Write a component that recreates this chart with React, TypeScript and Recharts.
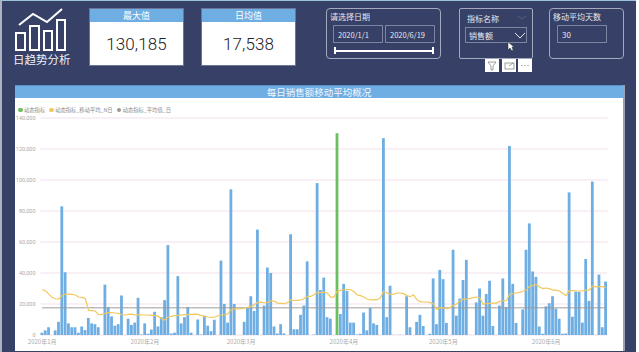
import React from 'react';
import { ComposedChart, Bar, Line, Cell, XAxis, YAxis, CartesianGrid, Legend } from 'recharts';

const NAVY = '#374066';
const BLUE = '#6FAEE2';
const GREEN = '#6ABF5E';
const YELLOW = '#F2C75C';
const GRAY = '#999999';
const CJK = '"Noto Sans CJK SC", "Noto Sans", sans-serif';

const monthLengths = [31, 29, 31, 30, 31, 19];

const salesValues = [
  1500, 3000, 5000, 0, 3000, 8500, 83000, 40500, 7500, 5000,
  5000, 1500, 5500, 3200, 11000, 7500, 7000, 5000, 0, 32500,
  18000, 12000, 6000, 7000, 25500, 0, 10500, 6500, 8000, 24000,
  300, 7500, 800, 3500, 15000, 5500, 11500, 22500, 58000, 1000,
  1500, 38000, 7500, 11500, 18000, 1500, 0, 10000, 300, 12500,
  6000, 2500, 9800, 0, 48000, 20000, 8000, 94000, 20000, 0,
  0, 8500, 17500, 25000, 15500, 68000, 0, 19000, 43500, 40000,
  5500, 1000, 7000, 1000, 0, 65000, 3700, 3700, 13000, 19000,
  47500, 0, 300, 98000, 29000, 37000, 11500, 10500, 0, 130185,
  13500, 33000, 28500, 8000, 8000, 300, 800, 14500, 3000, 17500,
  7500, 6500, 0, 127000, 11500, 31800, 100, 0, 200, 0,
  25000, 5000, 0, 8500, 13000, 5800, 0, 800, 36500, 7000,
  42000, 36000, 7800, 0, 55000, 12500, 23500, 35500, 48500, 100,
  0, 21000, 30000, 12500, 26500, 35000, 5800, 0, 19000, 36500,
  18000, 122000, 33000, 7800, 0, 16500, 55000, 72000, 41000, 37500,
  5500, 800, 18500, 20500, 25000, 17000, 10500, 800, 1000, 92000,
  11800, 28000, 27800, 8000, 49000, 22000, 99000, 100, 39000, 5000,
  34500,
];

const movingAvgValues = [
  29200, 28600, 26400, 24300, 23400, 23200, 25400, 26400, 26400, 26200,
  25800, 24500, 24300, 23600, 15900, 15700, 15500, 13300, 13100, 14000,
  14400, 14400, 14200, 14000, 12900, 12900, 13300, 13500, 12900, 13100,
  12900, 12900, 12900, 12700, 12700, 12000, 10500, 9700, 11600, 12000,
  12500, 12700, 12900, 13100, 13100, 13300, 13500, 13300, 12500, 12000,
  11600, 11400, 11600, 12250, 12900, 12900, 13750, 16300, 16800, 16800,
  17000, 17400, 17800, 18300, 19600, 21000, 21200, 20800, 21000, 22100,
  21900, 20600, 20400, 20200, 20800, 22800, 22100, 22400, 22600, 23600,
  24900, 24900, 26000, 27500, 27300, 27700, 27100, 24500, 24500, 28200,
  28800, 29200, 29500, 29200, 28000, 25800, 25400, 24500, 23200, 22600,
  22600, 22800, 23900, 28200, 27100, 26200, 26400, 27100, 27100, 26700,
  25400, 24700, 26000, 22800, 21500, 21300, 21300, 21000, 20000, 16500,
  17600, 17400, 16800, 17800, 19100, 20000, 21900, 23200, 23200, 23600,
  24100, 24500, 23900, 19800, 20200, 20400, 20600, 20600, 21700, 22100,
  22100, 26400, 26700, 27100, 27500, 28200, 29000, 31400, 32000, 32700,
  31000, 29900, 30300, 29900, 29000, 29000, 28400, 26900, 25400, 28800,
  28600, 28400, 28400, 28400, 29000, 29000, 31600, 31000, 31200, 31200,
  30700,
];

const AVG_VALUE = 17538;
const MAX_VALUE = 130185;
const yTicks = [0, 20000, 40000, 60000, 80000, 100000, 120000, 140000];
const monthTicks = ['2020-1-1', '2020-2-1', '2020-3-1', '2020-4-1', '2020-5-1', '2020-6-1'];

const dates = monthLengths.flatMap((len, m) =>
  Array.from({ length: len }, (_, d) => `2020-${m + 1}-${d + 1}`)
);

const chartData = dates.map((date, i) => ({
  date,
  sales: salesValues[i],
  movingAvg: movingAvgValues[i],
  avg: AVG_VALUE,
}));

const formatMonth = (d: string) => {
  const parts = d.split('-');
  return `${parts[0]}年${parts[1]}月`;
};

const ChartLegend = () => {
  const items = [
    { name: '动态指标', color: GREEN },
    { name: '动态指标_移动平均_N日', color: YELLOW },
    { name: '动态指标_平均值_日', color: GRAY },
  ];
  return (
    <div style={{ display: 'flex', height: 16, alignItems: 'center', paddingLeft: 3, fontFamily: CJK, fontSize: 5.3, color: '#8a8a8a' }}>
      {items.map((it) => (
        <span key={it.name} style={{ display: 'flex', alignItems: 'center', marginRight: 4 }}>
          <span style={{ width: 4.5, height: 4.5, borderRadius: '50%', background: it.color, marginRight: 1.5 }} />
          {it.name}
        </span>
      ))}
    </div>
  );
};

const box = (left: number, top: number, width: number, height: number, extra?: React.CSSProperties): React.CSSProperties => ({
  position: 'absolute', left, top, width, height, boxSizing: 'border-box', ...extra,
});

const Kpi = ({ left, title, value }: { left: number; title: string; value: string }) => (
  <div style={box(left, 8, 95, 58, { background: '#fff', border: '1px solid #6c7596' })}>
    <div style={{ height: 13, background: BLUE, color: '#fff', fontFamily: CJK, fontSize: 9, lineHeight: '13px', textAlign: 'center' }}>{title}</div>
    <div style={{ fontFamily: 'Roboto, sans-serif', fontWeight: 300, fontSize: 17, lineHeight: '44px', textAlign: 'center', color: '#222', letterSpacing: 0.1 }}>{value}</div>
  </div>
);

const Label = ({ left, top, size = 8, children }: { left: number; top: number; size?: number; children: React.ReactNode }) => (
  <div style={{ position: 'absolute', left, top, fontFamily: CJK, fontSize: size, lineHeight: '12px', color: '#e6e8f0', whiteSpace: 'nowrap' }}>{children}</div>
);

const frame = '1px solid #a4a9bd';
const inner = '1px solid #7d84a2';

export default function App() {
  return (
    <div style={{ position: 'absolute', left: 0, top: 0, width: 639, height: 352, overflow: 'hidden', background: NAVY }}>
      <div style={box(0, 0, 639, 1, { background: '#9cc3d8' })} />
      <div style={box(0, 0, 2, 352, { background: '#aeb3c4' })} />
      <div style={box(636, 0, 3, 352, { background: '#fff' })} />

      {/* icon and page title */}
      <svg style={{ position: 'absolute', left: 0, top: 0 }} width={80} height={55}>
        <g fill="none" stroke="#fff" strokeWidth={2}>
          <rect x={16} y={33} width={9} height={17} />
          <rect x={30} y={26} width={9} height={24} />
          <rect x={44} y={31} width={8} height={19} />
          <rect x={57} y={20} width={8} height={30} />
          <polyline points="19,25 33,14 47,22 62,9" />
        </g>
      </svg>
      <div style={{ position: 'absolute', left: 13, top: 52, fontFamily: CJK, fontSize: 11.5, lineHeight: '14px', color: '#eef0f6', whiteSpace: 'nowrap' }}>日趋势分析</div>

      <Kpi left={89} title="最大值" value="130,185" />
      <Kpi left={201} title="日均值" value="17,538" />

      {/* date slicer */}
      <div style={box(326, 8, 115, 51, { border: frame, borderRadius: 4 })} />
      <Label left={330} top={11}>请选择日期</Label>
      <div style={box(333, 25, 50, 18, { border: inner })} />
      <div style={box(385, 25, 50, 18, { border: inner })} />
      <Label left={338} top={29} size={7.5}>2020/1/1</Label>
      <Label left={390} top={29} size={7.5}>2020/6/19</Label>
      <div style={box(334, 50, 100, 2, { background: '#fff' })} />
      <div style={box(334, 47, 2, 7, { background: '#fff' })} />
      <div style={box(432, 47, 2, 7, { background: '#fff' })} />

      {/* metric slicer */}
      <div style={box(459, 8, 74, 51, { border: frame, borderRadius: 2 })} />
      <Label left={467} top={13}>指标名称</Label>
      <div style={box(465, 27, 62, 16, { border: inner })} />
      <Label left={469} top={30}>销售额</Label>
      <svg style={{ position: 'absolute', left: 510, top: 14 }} width={20} height={26}>
        <polyline points="8,2 12,5 16,2" fill="none" stroke="#59617f" strokeWidth={1} />
        <polyline points="5,19 10,24 15,19" fill="none" stroke="#e6e8f0" strokeWidth={1} />
      </svg>
      <svg style={{ position: 'absolute', left: 507, top: 41 }} width={10} height={12}>
        <polygon points="1,1 1,9 3,7 5,10 6,9 5,6 7,6" fill="#fff" stroke="#333" strokeWidth={0.5} />
      </svg>

      {/* visual toolbar */}
      <div style={box(485, 59, 14, 13, { background: '#fff' })} />
      <div style={box(502, 59, 14, 13, { background: '#fff' })} />
      <div style={box(518, 59, 14, 13, { background: '#fff' })} />
      <svg style={{ position: 'absolute', left: 485, top: 59 }} width={47} height={13}>
        <polygon points="3,3 11,3 8,7 8,11 6,11 6,7" fill="none" stroke="#777" strokeWidth={0.7} />
        <rect x={20} y={4} width={9} height={6} fill="none" stroke="#777" strokeWidth={0.7} />
        <polyline points="24,7 28,4" fill="none" stroke="#777" strokeWidth={0.7} />
        <circle cx={37} cy={6.5} r={0.6} fill="#666" />
        <circle cx={40} cy={6.5} r={0.6} fill="#666" />
        <circle cx={43} cy={6.5} r={0.6} fill="#666" />
      </svg>

      {/* moving average days */}
      <div style={box(549, 8, 75, 51, { border: frame, borderRadius: 4 })} />
      <Label left={553} top={11}>移动平均天数</Label>
      <div style={box(557, 25, 50, 18, { border: inner })} />
      <Label left={562} top={29}>30</Label>

      {/* chart panel */}
      <div style={box(15, 85, 610, 266, { background: '#fff', borderRight: '2px solid #9a9fb2' })} />
      <div style={box(15, 85, 608, 13, { background: BLUE, borderTop: '1px solid #5a8fc8', color: '#f2f7fc', fontFamily: CJK, fontSize: 9.5, lineHeight: '13px', textAlign: 'center' })}>每日销售额移动平均概况</div>

      <div style={{ position: 'absolute', left: 15, top: 97 }}>
        <ComposedChart width={608} height={254} data={chartData} barCategoryGap={0} margin={{ top: 5, right: 15.5, bottom: 0, left: 0 }}>
          <Legend verticalAlign="top" align="left" height={16} content={<ChartLegend />} />
          <CartesianGrid vertical={false} stroke="#f3e1ee" strokeWidth={1} />
          <XAxis
            dataKey="date"
            ticks={monthTicks}
            interval={0}
            tickFormatter={formatMonth}
            axisLine={false}
            tickLine={false}
            height={16}
            tickMargin={2}
            tickSize={3}
            tick={{ fontSize: 6, fill: '#aaaaaa', fontFamily: CJK }}
          />
          <YAxis
            width={25.5}
            domain={[0, 140000]}
            ticks={yTicks}
            tickFormatter={(v: number) => v.toLocaleString('en-US')}
            axisLine={false}
            tickLine={false}
            tickSize={0}
            tickMargin={5}
            tick={{ fontSize: 5.5, fill: '#aaaaaa', fontFamily: 'Roboto, sans-serif' }}
          />
          <Bar dataKey="sales" name="动态指标" barSize={2.8} fill={BLUE} isAnimationActive={false}>
            {chartData.map((d) => (
              <Cell key={d.date} fill={d.sales === MAX_VALUE ? GREEN : BLUE} />
            ))}
          </Bar>
          <Line dataKey="avg" name="动态指标_平均值_日" stroke={GRAY} strokeWidth={1} dot={false} isAnimationActive={false} />
          <Line dataKey="movingAvg" name="动态指标_移动平均_N日" stroke={YELLOW} strokeWidth={1.2} dot={false} isAnimationActive={false} />
        </ComposedChart>
      </div>
    </div>
  );
}
